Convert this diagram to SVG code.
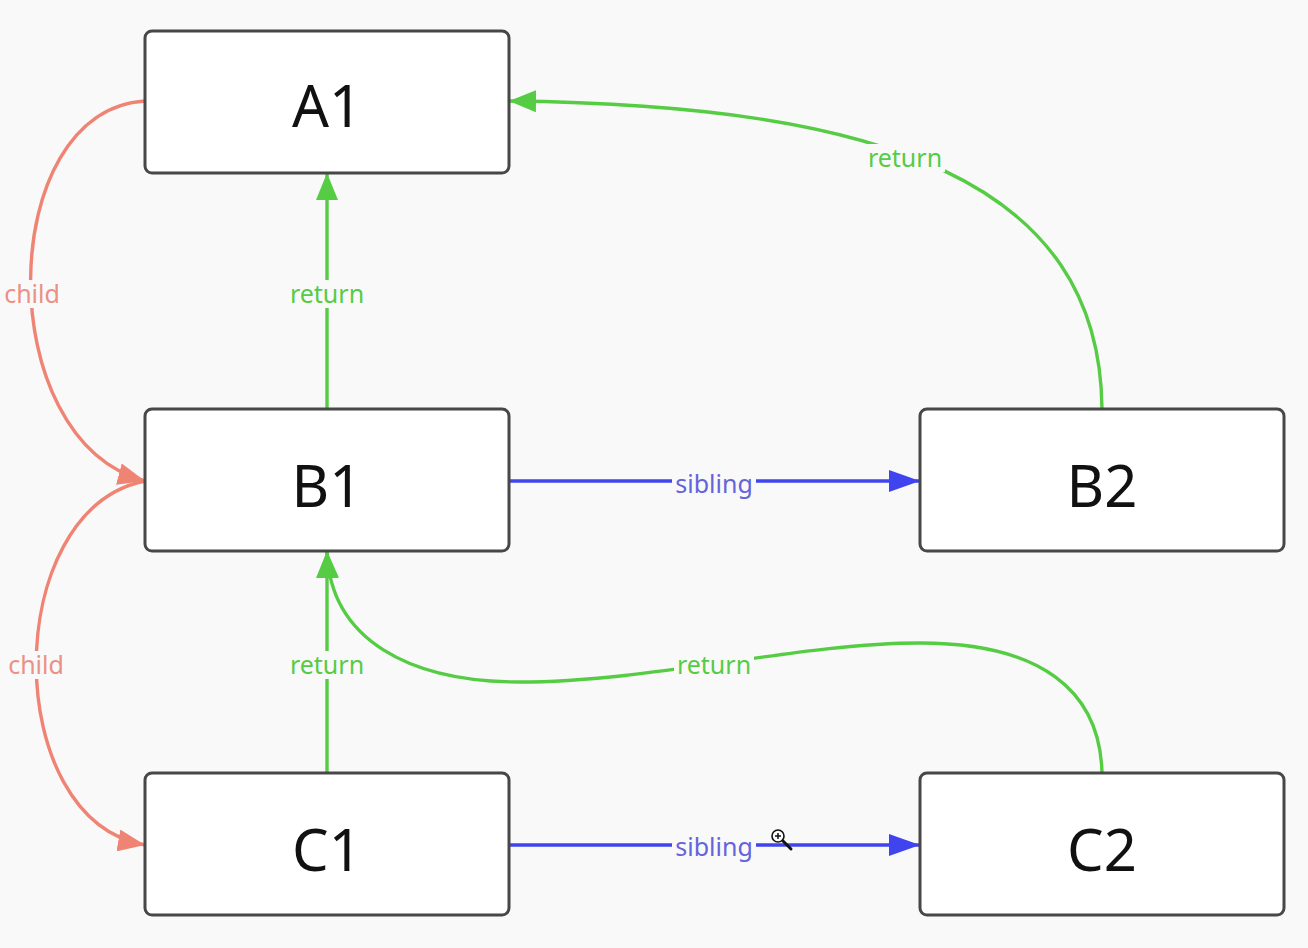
<svg xmlns="http://www.w3.org/2000/svg" width="1308" height="948" viewBox="0 0 1308 948">
  <style>
    .node rect { fill: #ffffff; stroke: #474747; stroke-width: 3; }
    .node text { font-family: "Noto Sans", "Open Sans", sans-serif; font-size: 58px; fill: #111111; text-anchor: middle; dominant-baseline: central; }
    .edge { fill: none; stroke-width: 3.4; }
    .child { stroke: #ef8474; }
    .ret { stroke: #55cc44; }
    .sib { stroke: #3f44ee; }
    .lbl-bg { fill: #f9f9f9; }
    .lbl { font-family: "Noto Sans", "Open Sans", sans-serif; font-size: 25px; text-anchor: middle; dominant-baseline: central; }
    .lbl.child-t { fill: #ea9186; }
    .lbl.ret-t { fill: #55cc44; }
    .lbl.sib-t { fill: #6464dc; }
  </style>
  <defs>
    <marker id="arr-child" markerUnits="userSpaceOnUse" markerWidth="28" markerHeight="22" refX="27" refY="11" orient="auto">
      <path d="M0,0 L27,11 L0,22 Z" fill="#ef8474"/>
    </marker>
    <marker id="arr-ret" markerUnits="userSpaceOnUse" markerWidth="28" markerHeight="22" refX="27" refY="11" orient="auto">
      <path d="M0,0 L27,11 L0,22 Z" fill="#55cc44"/>
    </marker>
    <marker id="arr-sib" markerUnits="userSpaceOnUse" markerWidth="32" markerHeight="22" refX="31" refY="11" orient="auto">
      <path d="M0,0 L31,11 L0,22 Z" fill="#3f44ee"/>
    </marker>
  </defs>

  <rect width="1308" height="948" fill="#f9f9f9"/>

  <!-- connectors -->
  <g id="connectors">
    <!-- child links -->
    <path class="edge child" d="M145,101 C-5,110 -10,440 145,481" marker-end="url(#arr-child)"/>
    <path class="edge child" d="M145,481 C0,510 0,820 145,845" marker-end="url(#arr-child)"/>
    <!-- return links -->
    <path class="edge ret" d="M327,409 L327,173" marker-end="url(#arr-ret)"/>
    <path class="edge ret" d="M1102,409 C1100,180 880,105 509,101" marker-end="url(#arr-ret)"/>
    <path class="edge ret" d="M327,773 L327,551" marker-end="url(#arr-ret)"/>
    <path class="edge ret" d="M1102,773 C1100,690 1040,643 920,643 C800,643 650,682 520,682 C410,682 330,640 327,551" marker-end="url(#arr-ret)"/>
    <!-- sibling links -->
    <path class="edge sib" d="M509,481 L920,481" marker-end="url(#arr-sib)"/>
    <path class="edge sib" d="M509,845 L920,845" marker-end="url(#arr-sib)"/>

    <!-- labels -->
    <rect class="lbl-bg" x="1" y="280" width="62" height="28"/>
    <text class="lbl child-t" x="32" y="293">child</text>
    <rect class="lbl-bg" x="5" y="651" width="62" height="28"/>
    <text class="lbl child-t" x="36" y="664">child</text>

    <rect class="lbl-bg" x="287" y="280" width="80" height="28"/>
    <text class="lbl ret-t" x="327" y="293">return</text>
    <rect class="lbl-bg" x="287" y="651" width="80" height="28"/>
    <text class="lbl ret-t" x="327" y="664">return</text>
    <rect class="lbl-bg" x="865" y="144" width="80" height="28"/>
    <text class="lbl ret-t" x="905" y="157">return</text>
    <rect class="lbl-bg" x="674" y="651" width="80" height="28"/>
    <text class="lbl ret-t" x="714" y="664">return</text>

    <rect class="lbl-bg" x="672" y="470" width="84" height="28"/>
    <text class="lbl sib-t" x="714" y="483">sibling</text>
    <rect class="lbl-bg" x="672" y="833" width="84" height="28"/>
    <text class="lbl sib-t" x="714" y="846">sibling</text>
  </g>

  <!-- nodes -->
  <g id="node-A1" class="node">
    <rect x="145" y="31" width="364" height="142" rx="7"/>
    <text x="327" y="104">A1</text>
  </g>
  <g id="node-B1" class="node">
    <rect x="145" y="409" width="364" height="142" rx="7"/>
    <text x="327" y="484">B1</text>
  </g>
  <g id="node-B2" class="node">
    <rect x="920" y="409" width="364" height="142" rx="7"/>
    <text x="1102" y="484">B2</text>
  </g>
  <g id="node-C1" class="node">
    <rect x="145" y="773" width="364" height="142" rx="7"/>
    <text x="327" y="848">C1</text>
  </g>
  <g id="node-C2" class="node">
    <rect x="920" y="773" width="364" height="142" rx="7"/>
    <text x="1102" y="848">C2</text>
  </g>

  <!-- zoom pointer -->
  <g id="pointer">
    <line x1="783" y1="841" x2="791" y2="849" stroke="#111" stroke-width="3" stroke-linecap="round"/>
    <circle cx="778" cy="836" r="6" fill="#fff" stroke="#111" stroke-width="1.6"/>
    <path d="M775,836 H781 M778,833 V839" stroke="#111" stroke-width="1.5"/>
  </g>
</svg>
